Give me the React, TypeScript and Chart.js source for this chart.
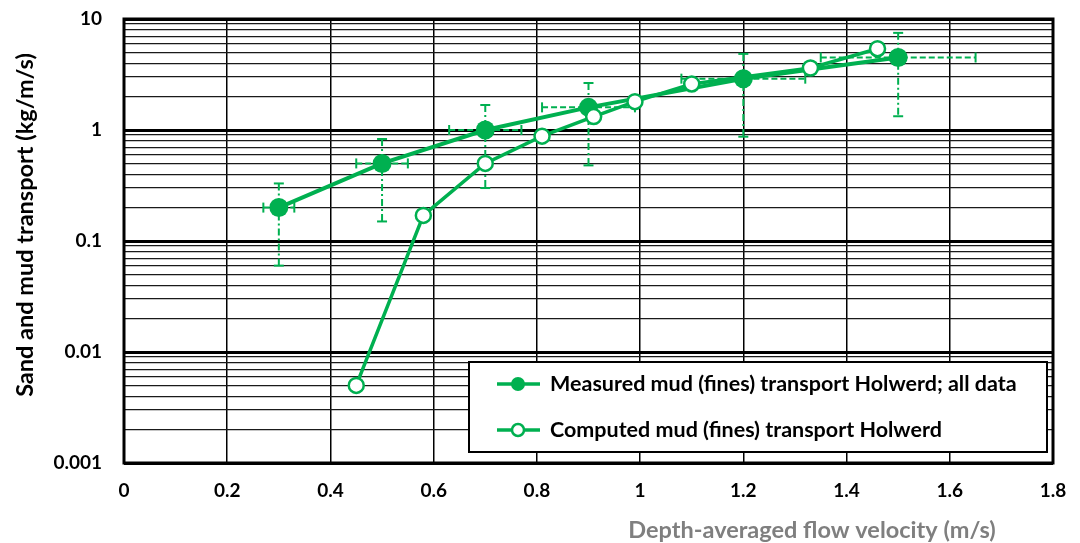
import React, { useEffect, useRef } from 'react';
import { Chart, registerables } from 'chart.js';

Chart.register(...registerables);

// ---- Data ----
const measuredX = [0.3, 0.5, 0.7, 0.9, 1.2, 1.5];
const measuredY = [0.2, 0.5, 1.0, 1.6, 2.9, 4.5];
const measuredYLow = [0.06, 0.15, 0.3, 0.48, 0.87, 1.33];
const measuredYHigh = [0.33, 0.83, 1.68, 2.65, 4.85, 7.5];
const measuredXErr = [0.03, 0.05, 0.07, 0.09, 0.12, 0.15];

const computedX = [0.45, 0.58, 0.7, 0.81, 0.91, 0.99, 1.1, 1.33, 1.46];
const computedY = [0.005, 0.17, 0.5, 0.88, 1.32, 1.8, 2.6, 3.62, 5.4];

const xTickValues = [0, 0.2, 0.4, 0.6, 0.8, 1, 1.2, 1.4, 1.6, 1.8];
const xTickLabels = ['0', '0.2', '0.4', '0.6', '0.8', '1', '1.2', '1.4', '1.6', '1.8'];
const yDecades = [0.001, 0.01, 0.1, 1, 10];
const yDecadeLabels = ['0.001', '0.01', '0.1', '1', '10'];
const yMinorMultipliers = [2, 3, 4, 5, 6, 7, 8, 9];

const seriesLabels = [
  'Measured mud (fines) transport Holwerd; all data',
  'Computed mud (fines) transport Holwerd',
];
const xTitle = 'Depth-averaged flow velocity (m/s)';
const yTitle = 'Sand and mud transport (kg/m/s)';

const GREEN = '#00B050';
const FONT = 'Lato, "Open Sans", sans-serif';

const yTickValues: number[] = [];
yDecades.forEach((d, i) => {
  yTickValues.push(d);
  if (i < yDecades.length - 1) yMinorMultipliers.forEach((m) => yTickValues.push(+(d * m).toPrecision(3)));
});

const isDecade = (v: number) => yDecades.some((d) => Math.abs(v / d - 1) < 1e-6);

const framePlugin = {
  id: 'frameAndErrors',
  beforeDatasetsDraw(chart: any) {
    const { ctx, chartArea, scales } = chart;
    const x = scales.x;
    const y = scales.y;
    ctx.save();
    // plot border
    ctx.strokeStyle = '#000';
    ctx.lineWidth = 3;
    ctx.strokeRect(chartArea.left, chartArea.top, chartArea.right - chartArea.left, chartArea.bottom - chartArea.top);

    // error bars
    ctx.strokeStyle = GREEN;
    ctx.lineWidth = 2;
    const line = (x1: number, y1: number, x2: number, y2: number) => {
      ctx.beginPath();
      ctx.moveTo(x1, y1);
      ctx.lineTo(x2, y2);
      ctx.stroke();
    };
    measuredX.forEach((mx, i) => {
      const px = x.getPixelForValue(mx);
      const py = y.getPixelForValue(measuredY[i]);
      const yLo = y.getPixelForValue(measuredYLow[i]);
      const yHi = y.getPixelForValue(measuredYHigh[i]);
      ctx.setLineDash([7, 3, 2, 3]);
      line(px, yHi, px, yLo);
      const xL = x.getPixelForValue(mx - measuredXErr[i]);
      const xR = x.getPixelForValue(mx + measuredXErr[i]);
      ctx.setLineDash([6, 3]);
      line(xL, py, xR, py);
      ctx.setLineDash([]);
      line(px - 5, yHi, px + 5, yHi);
      line(px - 5, yLo, px + 5, yLo);
      line(xL, py - 5, xL, py + 5);
      line(xR, py - 5, xR, py + 5);
    });
    ctx.restore();
  },
  afterDatasetsDraw(chart: any) {
    const { ctx, chartArea } = chart;
    ctx.save();
    // legend box
    const lx = 469, ly = 362, lw = 578, lh = 90;
    ctx.fillStyle = '#fff';
    ctx.fillRect(lx, ly, lw, lh);
    ctx.strokeStyle = '#000';
    ctx.lineWidth = 2;
    ctx.strokeRect(lx, ly, lw, lh);
    const rows = [384, 430];
    rows.forEach((ry, i) => {
      ctx.strokeStyle = GREEN;
      ctx.lineWidth = 3.5;
      ctx.beginPath();
      ctx.moveTo(497, ry);
      ctx.lineTo(540, ry);
      ctx.stroke();
      ctx.beginPath();
      ctx.arc(518, ry, i === 0 ? 7 : 6, 0, Math.PI * 2);
      if (i === 0) {
        ctx.fillStyle = GREEN;
        ctx.fill();
      } else {
        ctx.fillStyle = '#fff';
        ctx.fill();
        ctx.lineWidth = 2.5;
        ctx.stroke();
      }
      ctx.fillStyle = '#000';
      ctx.font = `bold 21.5px ${FONT}`;
      ctx.textAlign = 'left';
      ctx.textBaseline = 'middle';
      ctx.fillText(seriesLabels[i], 550, ry);
    });
    // x-axis title
    ctx.fillStyle = '#7F7F7F';
    ctx.font = `bold 23.5px ${FONT}`;
    ctx.textAlign = 'center';
    ctx.textBaseline = 'middle';
    const cx = chartArea.left + ((812 - 124) / 929) * (chartArea.right - chartArea.left);
    ctx.fillText(xTitle, cx, 530);
    // y-axis title
    ctx.translate(25, 225);
    ctx.rotate(-Math.PI / 2);
    ctx.fillStyle = '#000';
    ctx.font = `bold 23.5px ${FONT}`;
    ctx.fillText(yTitle, 0, 0);
    ctx.restore();
  },
};

export default function App() {
  const ref = useRef<HTMLCanvasElement>(null);
  useEffect(() => {
    if (!ref.current) return;
    const chart = new Chart(ref.current, {
      type: 'line',
      data: {
        datasets: [
          {
            label: seriesLabels[0],
            data: measuredX.map((v, i) => ({ x: v, y: measuredY[i] })),
            borderColor: GREEN,
            backgroundColor: GREEN,
            borderWidth: 4,
            pointRadius: 9.5,
            pointBorderWidth: 0,
            pointBackgroundColor: GREEN,
            order: 1,
          },
          {
            label: seriesLabels[1],
            data: computedX.map((v, i) => ({ x: v, y: computedY[i] })),
            borderColor: GREEN,
            backgroundColor: '#fff',
            borderWidth: 3.5,
            pointRadius: 7.5,
            pointBorderWidth: 2.5,
            pointBackgroundColor: '#fff',
            pointBorderColor: GREEN,
            order: 0,
          },
        ],
      },
      plugins: [framePlugin],
      options: {
        animation: false,
        responsive: false,
        layout: { padding: { top: 19, right: 27, left: 0, bottom: 0 } },
        plugins: { legend: { display: false }, tooltip: { enabled: false } },
        scales: {
          x: {
            type: 'linear',
            min: 0,
            max: 1.8,
            afterBuildTicks: (s: any) => {
              s.ticks = xTickValues.map((v) => ({ value: v }));
            },
            afterFit: (s: any) => {
              s.height = 80;
              s.paddingLeft = 0;
              s.paddingRight = 0;
            },
            ticks: {
              autoSkip: false,
              maxRotation: 0,
              padding: 16,
              color: '#000',
              font: { family: FONT, size: 19, weight: 'bold' },
              callback: (_v: any, i: number) => xTickLabels[i],
            },
            grid: { color: '#000', lineWidth: 1.5, drawTicks: false },
            border: { display: false },
          },
          y: {
            type: 'logarithmic',
            min: 0.001,
            max: 10,
            afterBuildTicks: (s: any) => {
              s.ticks = yTickValues.map((v) => ({ value: v }));
            },
            afterFit: (s: any) => {
              s.width = 124;
              s.paddingTop = 0;
              s.paddingBottom = 0;
            },
            ticks: {
              autoSkip: false,
              padding: 22,
              color: '#000',
              font: { family: FONT, size: 19, weight: 'bold' },
              callback: (v: any) => {
                const idx = yDecades.findIndex((d) => Math.abs(v / d - 1) < 1e-6);
                return idx >= 0 ? yDecadeLabels[idx] : '';
              },
            },
            grid: {
              drawTicks: false,
              color: (c: any) => (isDecade(c.tick.value) ? '#000' : '#1a1a1a'),
              lineWidth: (c: any) => (isDecade(c.tick.value) ? 3 : 1.3),
            },
            border: { display: false },
          },
        },
      },
    });
    return () => chart.destroy();
  }, []);
  return (
    <div style={{ position: 'fixed', left: 0, top: 0, width: 1080, height: 543, background: '#fff' }}>
      <canvas ref={ref} width={1080} height={543} style={{ width: 1080, height: 543, display: 'block' }} />
    </div>
  );
}
